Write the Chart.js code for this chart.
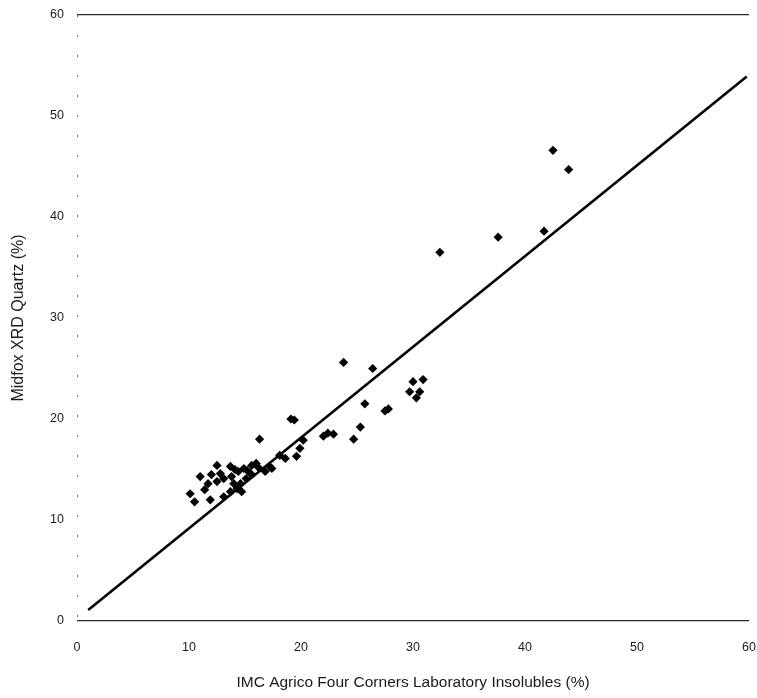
<!DOCTYPE html>
<html>
<head>
<meta charset="utf-8">
<script src="https://cdn.jsdelivr.net/npm/chart.js@4/dist/chart.umd.min.js"></script>
<style>
  html, body { margin: 0; padding: 0; background: #fff; overflow: hidden; }
  #chart-root { width: 757px; height: 698px; }
</style>
</head>
<body>
<div id="chart-root"><canvas id="chart-main"></canvas></div>
<script>
// lab insolubles (x) vs XRD quartz (y)
const insolubles = [10.1, 10.5, 11.0, 11.4, 11.7, 11.9, 12.0, 12.5, 12.5, 13.1, 13.1, 13.7, 13.7, 13.8, 14.0, 14.3,
    14.4, 14.6, 14.7, 14.9, 15.1, 15.5, 15.6, 16.0, 16.3, 16.8, 17.2, 17.4, 18.1, 18.6, 19.1, 19.4, 19.6, 19.9,
    20.2, 22.0, 22.4, 22.9, 23.8, 24.7, 25.3, 25.7, 26.4, 27.5, 27.8, 29.7, 30.3, 30.6, 30.0, 30.9, 32.4, 37.6,
    41.7, 42.5, 43.9, 14.1, 15.2, 16.2, 12.8];
const quartz = [12.6, 11.8, 14.3, 13.0, 13.6, 12.0, 14.5, 15.4, 13.8, 14.1, 12.3, 15.3, 12.8, 14.3, 13.6, 13.1,
    14.8, 13.6, 12.8, 15.1, 14.1, 14.6, 15.4, 15.6, 18.0, 14.8, 15.3, 15.1, 16.4, 16.1, 20.0, 19.9, 16.3, 17.1,
    17.9, 18.3, 18.6, 18.5, 25.6, 18.0, 19.2, 21.5, 25.0, 20.8, 21.0, 22.7, 22.1, 22.7, 23.7, 23.9, 36.5, 38.0,
    38.6, 46.6, 44.7, 15.0, 14.9, 15.2, 14.6];
// fitted line end points
const fitX = [1.0, 59.8];
const fitY = [1.1, 53.9];
const axisTicks = [0, 10, 20, 30, 40, 50, 60];

const textColor = "#1a1a1a";
const fontFamily = "'Liberation Sans', Arial, sans-serif";

const points = insolubles.map((x, i) => ({ x: x, y: quartz[i] }));
const fitLine = fitX.map((x, i) => ({ x: x, y: fitY[i] }));

new Chart(document.getElementById("chart-main"), {
    type: "scatter",
    data: {
        datasets: [{
            data: points,
            pointStyle: "rectRot",
            pointRadius: 4.6,
            pointBackgroundColor: "#000",
            pointBorderColor: "#000",
            pointBorderWidth: 0
        }, {
            type: "line",
            data: fitLine,
            borderColor: "#000",
            borderWidth: 2.6,
            pointRadius: 0,
            fill: false
        }]
    },
    options: {
        responsive: true,
        maintainAspectRatio: false,
        animation: false,
        layout: { padding: { top: 15, right: 8, left: 0, bottom: 0 } },
        plugins: { legend: { display: false }, tooltip: { enabled: false } },
        scales: {
            x: {
                type: "linear",
                min: 0,
                max: 60,
                afterBuildTicks: function(scale) {
                    scale.ticks = axisTicks.map(v => ({ value: v }));
                },
                afterFit: function(scale) {
                    scale.height = 77;
                    // tick padding would otherwise be added to the side gutters
                    scale.paddingLeft = 0;
                    scale.paddingRight = 7;
                },
                // only the 0 line is shown: the dotted left edge
                grid: {
                    drawTicks: false,
                    lineWidth: 1,
                    color: function(context) {
                        let v = context.tick ? context.tick.value : null;
                        return v === 0 ? "#777" : "rgba(0,0,0,0)";
                    }
                },
                border: { display: false, dash: [2, 18] },
                ticks: { padding: 19, color: textColor, font: { family: fontFamily, size: 12.5 } },
                title: {
                    display: true,
                    text: "IMC Agrico Four Corners Laboratory Insolubles (%)",
                    color: textColor,
                    font: { family: fontFamily, size: 15.5 },
                    padding: { top: 0, bottom: 6 }
                }
            },
            y: {
                type: "linear",
                min: 0,
                max: 60,
                afterBuildTicks: function(scale) {
                    scale.ticks = axisTicks.map(v => ({ value: v }));
                },
                afterFit: function(scale) {
                    scale.width = 77;
                    scale.paddingTop = 0;
                    scale.paddingBottom = 0;
                },
                grid: {
                    drawTicks: false,
                    lineWidth: 1.3,
                    color: function(context) {
                        let v = context.tick ? context.tick.value : null;
                        if (v === 0 || v === 60) {
                            return "#2a2a2a";
                        }
                        return "rgba(0,0,0,0)";
                    }
                },
                border: { display: false },
                ticks: { padding: 13, color: textColor, font: { family: fontFamily, size: 12.5 } },
                title: {
                    display: true,
                    text: "Midfox XRD Quartz (%)",
                    color: textColor,
                    font: { family: fontFamily, size: 16 },
                    padding: { top: 9, bottom: 0 }
                }
            }
        }
    }
});
</script>
</body>
</html>
